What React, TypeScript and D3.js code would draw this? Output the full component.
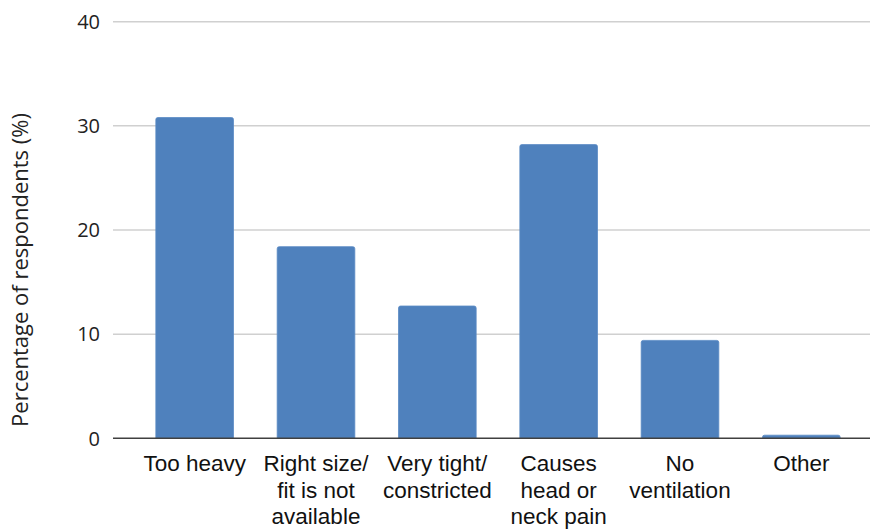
import React from "react";
import * as d3 from "d3";

const categories: string[][] = [
  ["Too heavy"],
  ["Right size/", "fit is not", "available"],
  ["Very tight/", "constricted"],
  ["Causes", "head or", "neck pain"],
  ["No", "ventilation"],
  ["Other"],
];
const values: number[] = [30.8, 18.4, 12.7, 28.2, 9.4, 0.3];
const yTicks: number[] = [0, 10, 20, 30, 40];
const yLabel = "Percentage of respondents (%)";

const W = 872;
const H = 531;

export default function App() {
  const keys = categories.map((c) => c.join(" "));
  const x = d3.scaleBand<string>().domain(keys).range([134, 862]).paddingInner(0.36).paddingOuter(0.18);
  const y = d3.scaleLinear().domain([0, 40]).range([438.3, 21.7]);
  const gridX0 = 113;
  const gridX1 = 870;
  const tickFont = "'Open Sans', sans-serif";
  const catFont = "'Liberation Sans', Arial, sans-serif";

  return (
    <svg width={W} height={H} style={{ display: "block", position: "absolute", left: 0, top: 0, background: "#fff" }}>
      {yTicks.filter((t) => t > 0).map((t) => (
        <line key={t} x1={gridX0} x2={gridX1} y1={y(t)} y2={y(t)} stroke="#d0d0d0" strokeWidth={1.5} />
      ))}
      {yTicks.map((t) => (
        <text key={"l" + t} x={100} y={y(t)} dy="0.36em" textAnchor="end" fontFamily={tickFont} fontSize={20} fill="#222">
          {t}
        </text>
      ))}
      <text
        transform={`translate(28, 270) rotate(-90)`}
        textAnchor="middle"
        fontFamily={tickFont}
        fontSize={22}
        fill="#222"
      >
        {yLabel}
      </text>
      {values.map((v, i) => {
        const bx = x(keys[i])!;
        const bw = x.bandwidth();
        const top = y(v);
        const h = y(0) - top;
        return (
          <path
            key={i}
            d={`M${bx},${y(0)} V${top + 2} Q${bx},${top} ${bx + 2},${top} H${bx + bw - 2} Q${bx + bw},${top} ${bx + bw},${top + 2} V${y(0)} Z`}
            fill="#4f81bd"
            stroke="#5a8ac4"
            strokeWidth={0.8}
            opacity={h > 0 ? 1 : 0}
          />
        );
      })}
      <line x1={gridX0} x2={gridX1} y1={y(0)} y2={y(0)} stroke="#404040" strokeWidth={1.5} />
      {categories.map((lines, i) => {
        const cx = x(keys[i])! + x.bandwidth() / 2;
        return (
          <text key={"c" + i} x={cx} textAnchor="middle" fontFamily={catFont} fontSize={22.5} fill="#111">
            {lines.map((ln, j) => (
              <tspan key={j} x={cx} y={471 + j * 26.7}>
                {ln}
              </tspan>
            ))}
          </text>
        );
      })}
    </svg>
  );
}
